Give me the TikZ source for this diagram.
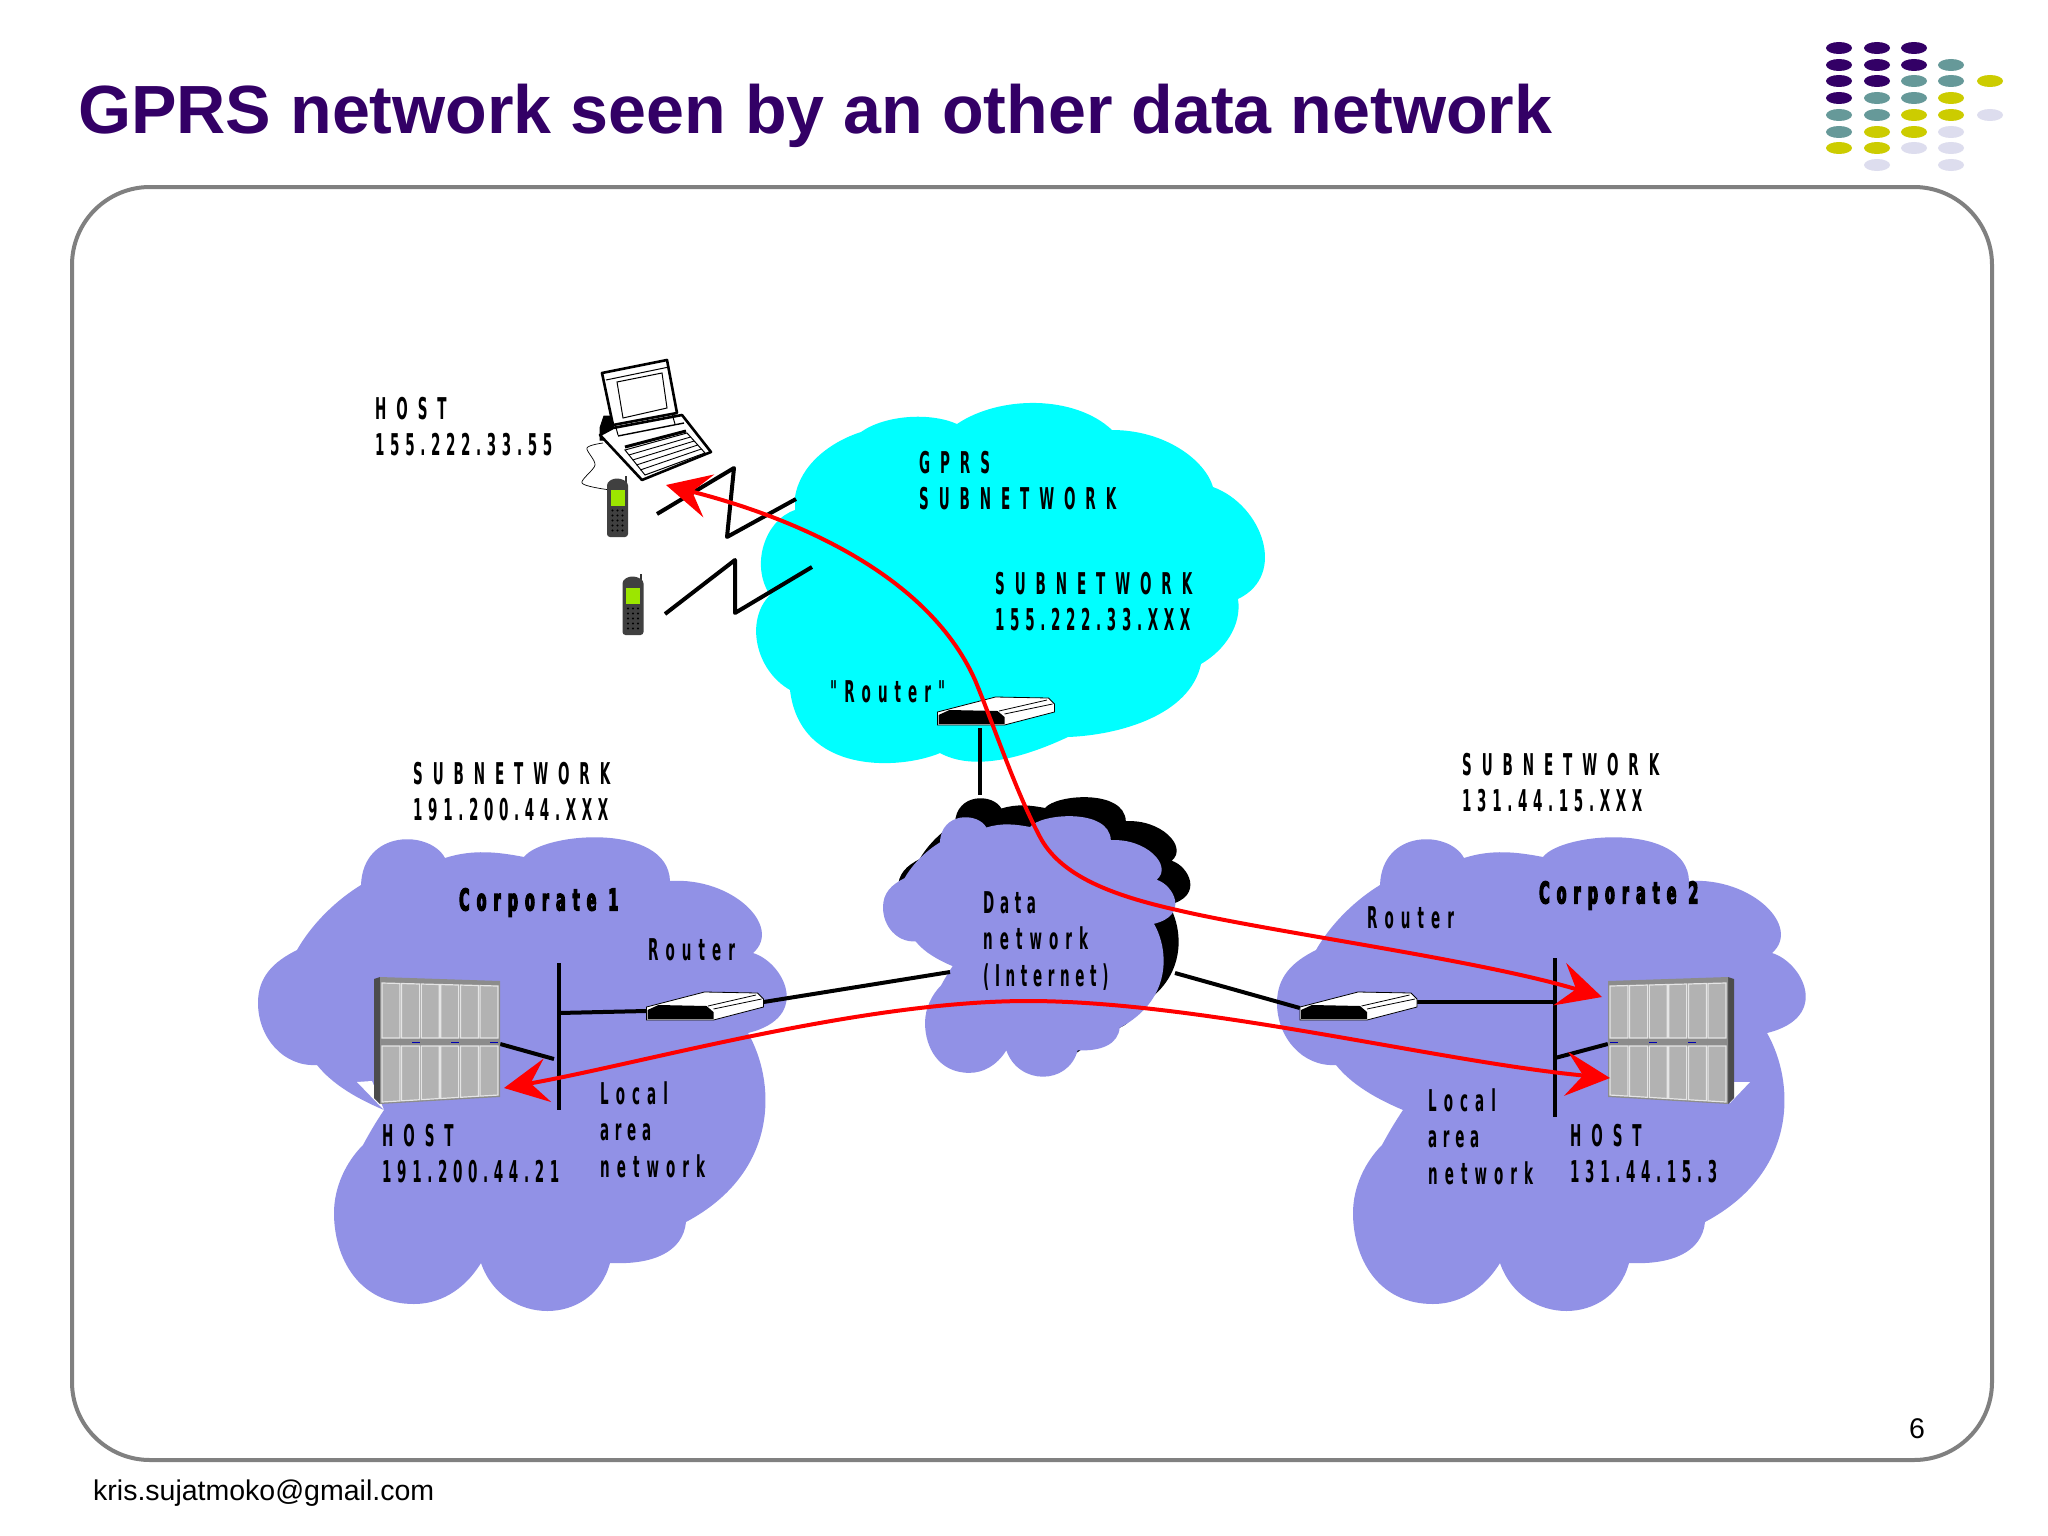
\documentclass[tikz,border=0pt]{standalone}
\usepackage{fontspec}
\setmainfont{Liberation Sans}
\newfontfamily\netfont[FakeStretch=.45,LetterSpace=18.8]{DejaVu Sans}
\newfontfamily\capfont[FakeStretch=.45,LetterSpace=33]{DejaVu Sans}
\newfontfamily\wordfont[FakeStretch=.45,LetterSpace=23.5]{DejaVu Sans}
\newfontfamily\corpfont[FakeStretch=.47,LetterSpace=24,BoldFeatures={FakeBold=4}]{DejaVu Sans}
\newcommand{\capt}[1]{{\capfont\bfseries #1}}
\newcommand{\wordt}[1]{{\wordfont\bfseries #1}}
\usepackage{xcolor}
\usetikzlibrary{arrows.meta, positioning, calc}

\definecolor{ink}{HTML}{330066}
\definecolor{teal}{HTML}{669999}
\definecolor{olive}{HTML}{CCCC00}
\definecolor{mist}{HTML}{DDDDEE}
\definecolor{lilac}{HTML}{9191E6}
\definecolor{aqua}{HTML}{00FFFF}
\definecolor{lcd}{HTML}{9CE600}

\begin{document}
\begin{tikzpicture}[
    x=1pt, y=-1pt,
    net/.style={anchor=north west, inner sep=0pt, align=left, font=\netfont\bfseries\fontsize{30}{36.5}\selectfont},
    corp/.style={anchor=north west, inner sep=0pt, font=\corpfont\bfseries\fontsize{30}{36}\selectfont},
    port/.style={inner sep=0pt, minimum width=117pt, minimum height=28pt},
    rack/.style={inner sep=0pt, minimum width=126pt, minimum height=127pt},
    handset/.style={inner sep=0pt, minimum width=21pt, minimum height=61pt},
    bus/.style={inner sep=0pt, fill=black, minimum width=4.5pt},
    link/.style={line width=4pt, draw=black},
    radio/.style={line width=4pt, draw=black, line join=round},
    flow/.style={<->, >={Stealth[length=44pt,width=44pt,inset=17pt]}, line width=4pt, draw=red},
    blob/.pic={
        \path[pic actions] (59,228) .. controls (25,230) and (0,200) .. (0,166)
            .. controls (0,140) and (15,125) .. (39,113)
            .. controls (55,85) and (80,62) .. (103,48)
            .. controls (105,-8) and (172,-7) .. (187,21)
            .. controls (215,12) and (240,15) .. (266,20)
            .. controls (285,-5) and (410,-15) .. (412,44)
            .. controls (475,40) and (525,90) .. (495,116)
            .. controls (525,125) and (555,180) .. (490,196)
            .. controls (518,245) and (522,335) .. (428,385)
            .. controls (425,415) and (395,428) .. (352,426)
            .. controls (335,490) and (245,490) .. (223,426)
            .. controls (205,455) and (180,467) .. (156,467)
            .. controls (100,467) and (76,420) .. (76,376)
            .. controls (76,350) and (88,325) .. (105,308)
            .. controls (112,295) and (118,285) .. (126,273)
            .. controls (100,262) and (75,248) .. (59,228) -- cycle;
    },
    router/.pic={
        \draw[fill=white, line width=.8pt] (-58.5,14) -- (-58.5,1) -- (-.5,-14) -- (52.5,-13) -- (58.5,-7) -- (58.5,1) -- (8.5,14) -- cycle;
        \fill[black] (-57.5,4) -- (-46.5,-1) -- (1.5,0) -- (8.5,6) -- (8.5,13) -- (-57.5,13) -- cycle;
        \draw[line width=.8pt] (8.5,3) -- (56.5,-7) (3,0) -- (51,-11);
    },
    server/.pic={
        \fill[black!70] (-63,-61) -- (-57,-63) -- (-57,64) -- (-63,58) -- cycle;
        \fill[black!45] (-57,-63) -- (63,-59) -- (63,57) -- (-57,64) -- cycle;
        \foreach \i in {0,...,5}{
            \pgfmathsetmacro\xa{-55+19.6*\i}
            \pgfmathsetmacro\xb{\xa+18}
            \draw[fill=black!30, draw=black!10, line width=1.2pt] (\xa,{-57+.026*(\xa+55)}) -- (\xb,{-57+.026*(\xb+55)}) -- (\xb,-2) -- (\xa,-2) -- cycle;
            \draw[fill=black!30, draw=black!10, line width=1.2pt] (\xa,6) -- (\xb,6) -- (\xb,{62-.06*(\xb+55)}) -- (\xa,{62-.06*(\xa+55)}) -- cycle;
        }
        \foreach \i in {0,1,2}{
            \draw[blue!70!black, line width=.8pt] ({-25+39.2*\i},2) -- ++(8,0);
        }
    },
    phone/.pic={
        \draw[black!80, line width=2pt] (8,-24) -- (8,-31);
        \fill[black!75, rounded corners=3pt] (-10.5,-24) -- (-4,-28) -- (3,-28) -- (10.5,-24) -- (10.5,30.5) -- (-10.5,30.5) -- cycle;
        \fill[lcd] (-7,-17) rectangle (7,-1);
        \foreach \r in {4,9,...,24}{
            \foreach \c in {-5,0,5}{
                \fill[black] (\c,\r) circle (1.2pt);
            }
        }
    }
]
\useasboundingbox (0,0) rectangle (2048,1536);
\fill[white] (0,0) rectangle (2048,1536);

% title and decoration
\node[anchor=base west, inner sep=0pt, text=ink, font=\bfseries\fontsize{68.2}{74}\selectfont] (title) at (78,134) {GPRS network seen by an other data network};
\foreach \cx/\cy/\col in {1839/48/ink,1877/48/ink,1914/48/ink,
    1839/65/ink,1877/65/ink,1914/65/ink,1951/65/teal,
    1839/81/ink,1877/81/ink,1914/81/teal,1951/81/teal,1990/81/olive,
    1839/98/ink,1877/98/teal,1914/98/teal,1951/98/olive,
    1839/115/teal,1877/115/teal,1914/115/olive,1951/115/olive,1990/115/mist,
    1839/132/teal,1877/132/olive,1914/132/olive,1951/132/mist,
    1839/148/olive,1877/148/olive,1914/148/mist,1951/148/mist,
    1877/165/mist,1951/165/mist}
    \fill[\col] (\cx,\cy) ellipse [x radius=13pt, y radius=6pt];

\draw[black!50, line width=4pt, rounded corners=78pt] (72,187) rectangle (1992,1460);

% clouds
\fill[aqua] (795,497) .. controls (800,465) and (830,442) .. (861,432)
    .. controls (885,415) and (930,412) .. (957,424)
    .. controls (1000,395) and (1075,395) .. (1112,430)
    .. controls (1165,430) and (1205,460) .. (1213,487)
    .. controls (1262,505) and (1288,575) .. (1238,599)
    .. controls (1242,625) and (1225,650) .. (1201,664)
    .. controls (1190,715) and (1120,735) .. (1068,737)
    .. controls (1040,750) and (980,775) .. (940,753)
    .. controls (900,770) and (800,775) .. (790,690)
    .. controls (755,670) and (745,620) .. (770,595)
    .. controls (750,565) and (765,520) .. (795,510) -- cycle;
\pic[fill=lilac] at (258,837) {blob};
\pic[fill=lilac] at (1277,837) {blob};
\pic[fill=black, xscale=.553, yscale=.55] at (898,797) {blob};
\pic[fill=lilac, xscale=.553, yscale=.55] at (883,816) {blob};

% paper sheets under the racks
\fill[white] (357,1082) -- (372,1081) -- (384,1110) -- cycle;
\fill[white] (1734,1082) -- (1750,1082) -- (1730,1103) -- cycle;

% equipment
\node[port] (rtrG) at (996,711) {};
\node[port] (rtrA) at (705,1006) {};
\node[port] (rtrB) at (1358.5,1006) {};
\node[rack] (srvA) at (437,1040) {};
\node[rack] (srvB) at (1671,1040) {};
\node[handset] (phoneA) at (617.5,506.5) {};
\node[handset] (phoneB) at (633,604.5) {};
\node[bus, minimum height=147pt] (busA) at (559,1036.5) {};
\node[bus, minimum height=159pt] (busB) at (1555,1037.5) {};

\coordinate (dataN) at (980,795);
\coordinate (dataW) at (950,972);
\coordinate (dataE) at (1175,973);
\coordinate (tapA) at (554,1059);
\coordinate (cableTop) at (603,443);
\coordinate (zigA) at (657,514);
\coordinate (zigB) at (665,614);

\draw[link] ([xshift=-16pt,yshift=-3pt]rtrG.south) -- (dataN);
\draw[link] ([yshift=-5pt]rtrA.west) -- ([yshift=23.5pt]busA.center);
\draw[link] ([yshift=4pt]rtrA.east) -- (dataW);
\draw[link] ([yshift=-2pt]rtrB.west) -- (dataE);
\draw[link] ([yshift=4pt]rtrB.east) -- ([yshift=35.5pt]busB.west);
\draw[link] ([yshift=-4pt]srvA.east) -- (tapA);
\draw[link] ([yshift=-4pt]srvB.west) -- ([yshift=-20.5pt]busB.center);

\pic at (rtrG) {router};
\pic at (rtrA) {router};
\pic at (rtrB) {router};
\pic at (srvA) {server};
\pic[xscale=-1] at (srvB) {server};
\pic at (phoneA) {phone};
\pic at (phoneB) {phone};

% laptop
\draw[fill=black, line width=1pt] (600,440) -- (600,428) -- (604,416) -- (612,416) -- (616,440) -- cycle;
\draw[fill=white, line width=2.6pt, line join=round] (600,435) -- (642,480) -- (711,452) -- (682,415) -- (613,428) -- cycle;
\draw[fill=white, line width=2.6pt, line join=round] (602,373) -- (667,360) -- (677,413) -- (613,425) -- cycle;
\draw[line width=1pt] (617,382) -- (662,373) -- (667,408) -- (623,418) -- cycle;
\draw[line width=1pt] (606,380) -- (669,367) (615,424) -- (618,435) (672,414) -- (675,424);
\draw[line width=1pt] (625,450) -- (687,433) -- (705,453) -- (645,475) -- cycle;
\draw[line width=1.4pt] (618,436) -- (684,423);
\draw[black, line width=3pt] (625,447) -- (686,431);
\foreach \k in {1,...,4}
    \draw[line width=.9pt] ({625+3.8*\k},{450+5*\k}) -- ({687+3.6*\k},{433+4*\k});
\draw[line width=.7pt] plot[smooth] coordinates {(cableTop) (587,448) (595,465) (582,483) ([yshift=17pt]phoneA.west)};

% radio links
\draw[radio] (zigA) -- ++(77,-46) -- ++(-7,69) -- ++(69,-38);
\draw[radio] (zigB) -- ++(70,-54) -- ++(0,53) -- ++(77,-46);

% labels
\node[net] (hostG) at (375,397) {\capt{HOST}\\155.222.33.55};
\node[net] (gprs) at (919,451) {\capt{GPRS}\\\capt{SUBNETWORK}};
\node[net] (subG) at (995,572) {\capt{SUBNETWORK}\\155.222.33.XXX};
\node[net] (rtrGlbl) at (830,680) {\wordt{"Router"}};
\node[net] (subA) at (413,762) {\capt{SUBNETWORK}\\191.200.44.XXX};
\node[net] (subB) at (1462,753) {\capt{SUBNETWORK}\\131.44.15.XXX};
\node[corp] (corpA) at (459,888) {Corporate 1};
\node[corp] (corpB) at (1539,881) {Corporate 2};
\node[net] (rtrAlbl) at (648,938) {\wordt{Router}};
\node[net] (rtrBlbl) at (1367,906) {\wordt{Router}};
\node[net] (lanA) at (600,1081) {\wordt{Local}\\area\\\wordt{network}};
\node[net] (lanB) at (1428,1088) {\wordt{Local}\\area\\\wordt{network}};
\node[net] (hostA) at (382,1124) {\capt{HOST}\\191.200.44.21};
\node[net] (hostB) at (1570,1124) {\capt{HOST}\\131.44.15.3};
\node[net] (data) at (983,891) {Data\\\wordt{network}\\(Internet)};

% traffic
\coordinate (tipHost) at (666,485);
\coordinate (tipA) at (504,1088);
\coordinate (tipB) at (1602,997);
\coordinate (tipC) at (1610,1078);
\draw[flow] (tipHost) .. controls (780,514) and (925,568) .. (975,680)
    .. controls (993,723) and (1015,790) .. (1040,837)
    .. controls (1060,875) and (1110,895) .. (1177,910)
    .. controls (1270,932) and (1480,960) .. (tipB);
\draw[flow] (tipA) .. controls (640,1064) and (860,1001) .. (1028,1001)
    .. controls (1200,1001) and (1440,1062) .. (tipC);

% footer
\node[anchor=base west, inner sep=0pt, font=\fontsize{28.5}{32}\selectfont] (mail) at (93,1500) {kris.sujatmoko@gmail.com};
\node[inner sep=0pt, font=\fontsize{28.5}{32}\selectfont] (page) at (1917,1429) {6};
\end{tikzpicture}
\end{document}
